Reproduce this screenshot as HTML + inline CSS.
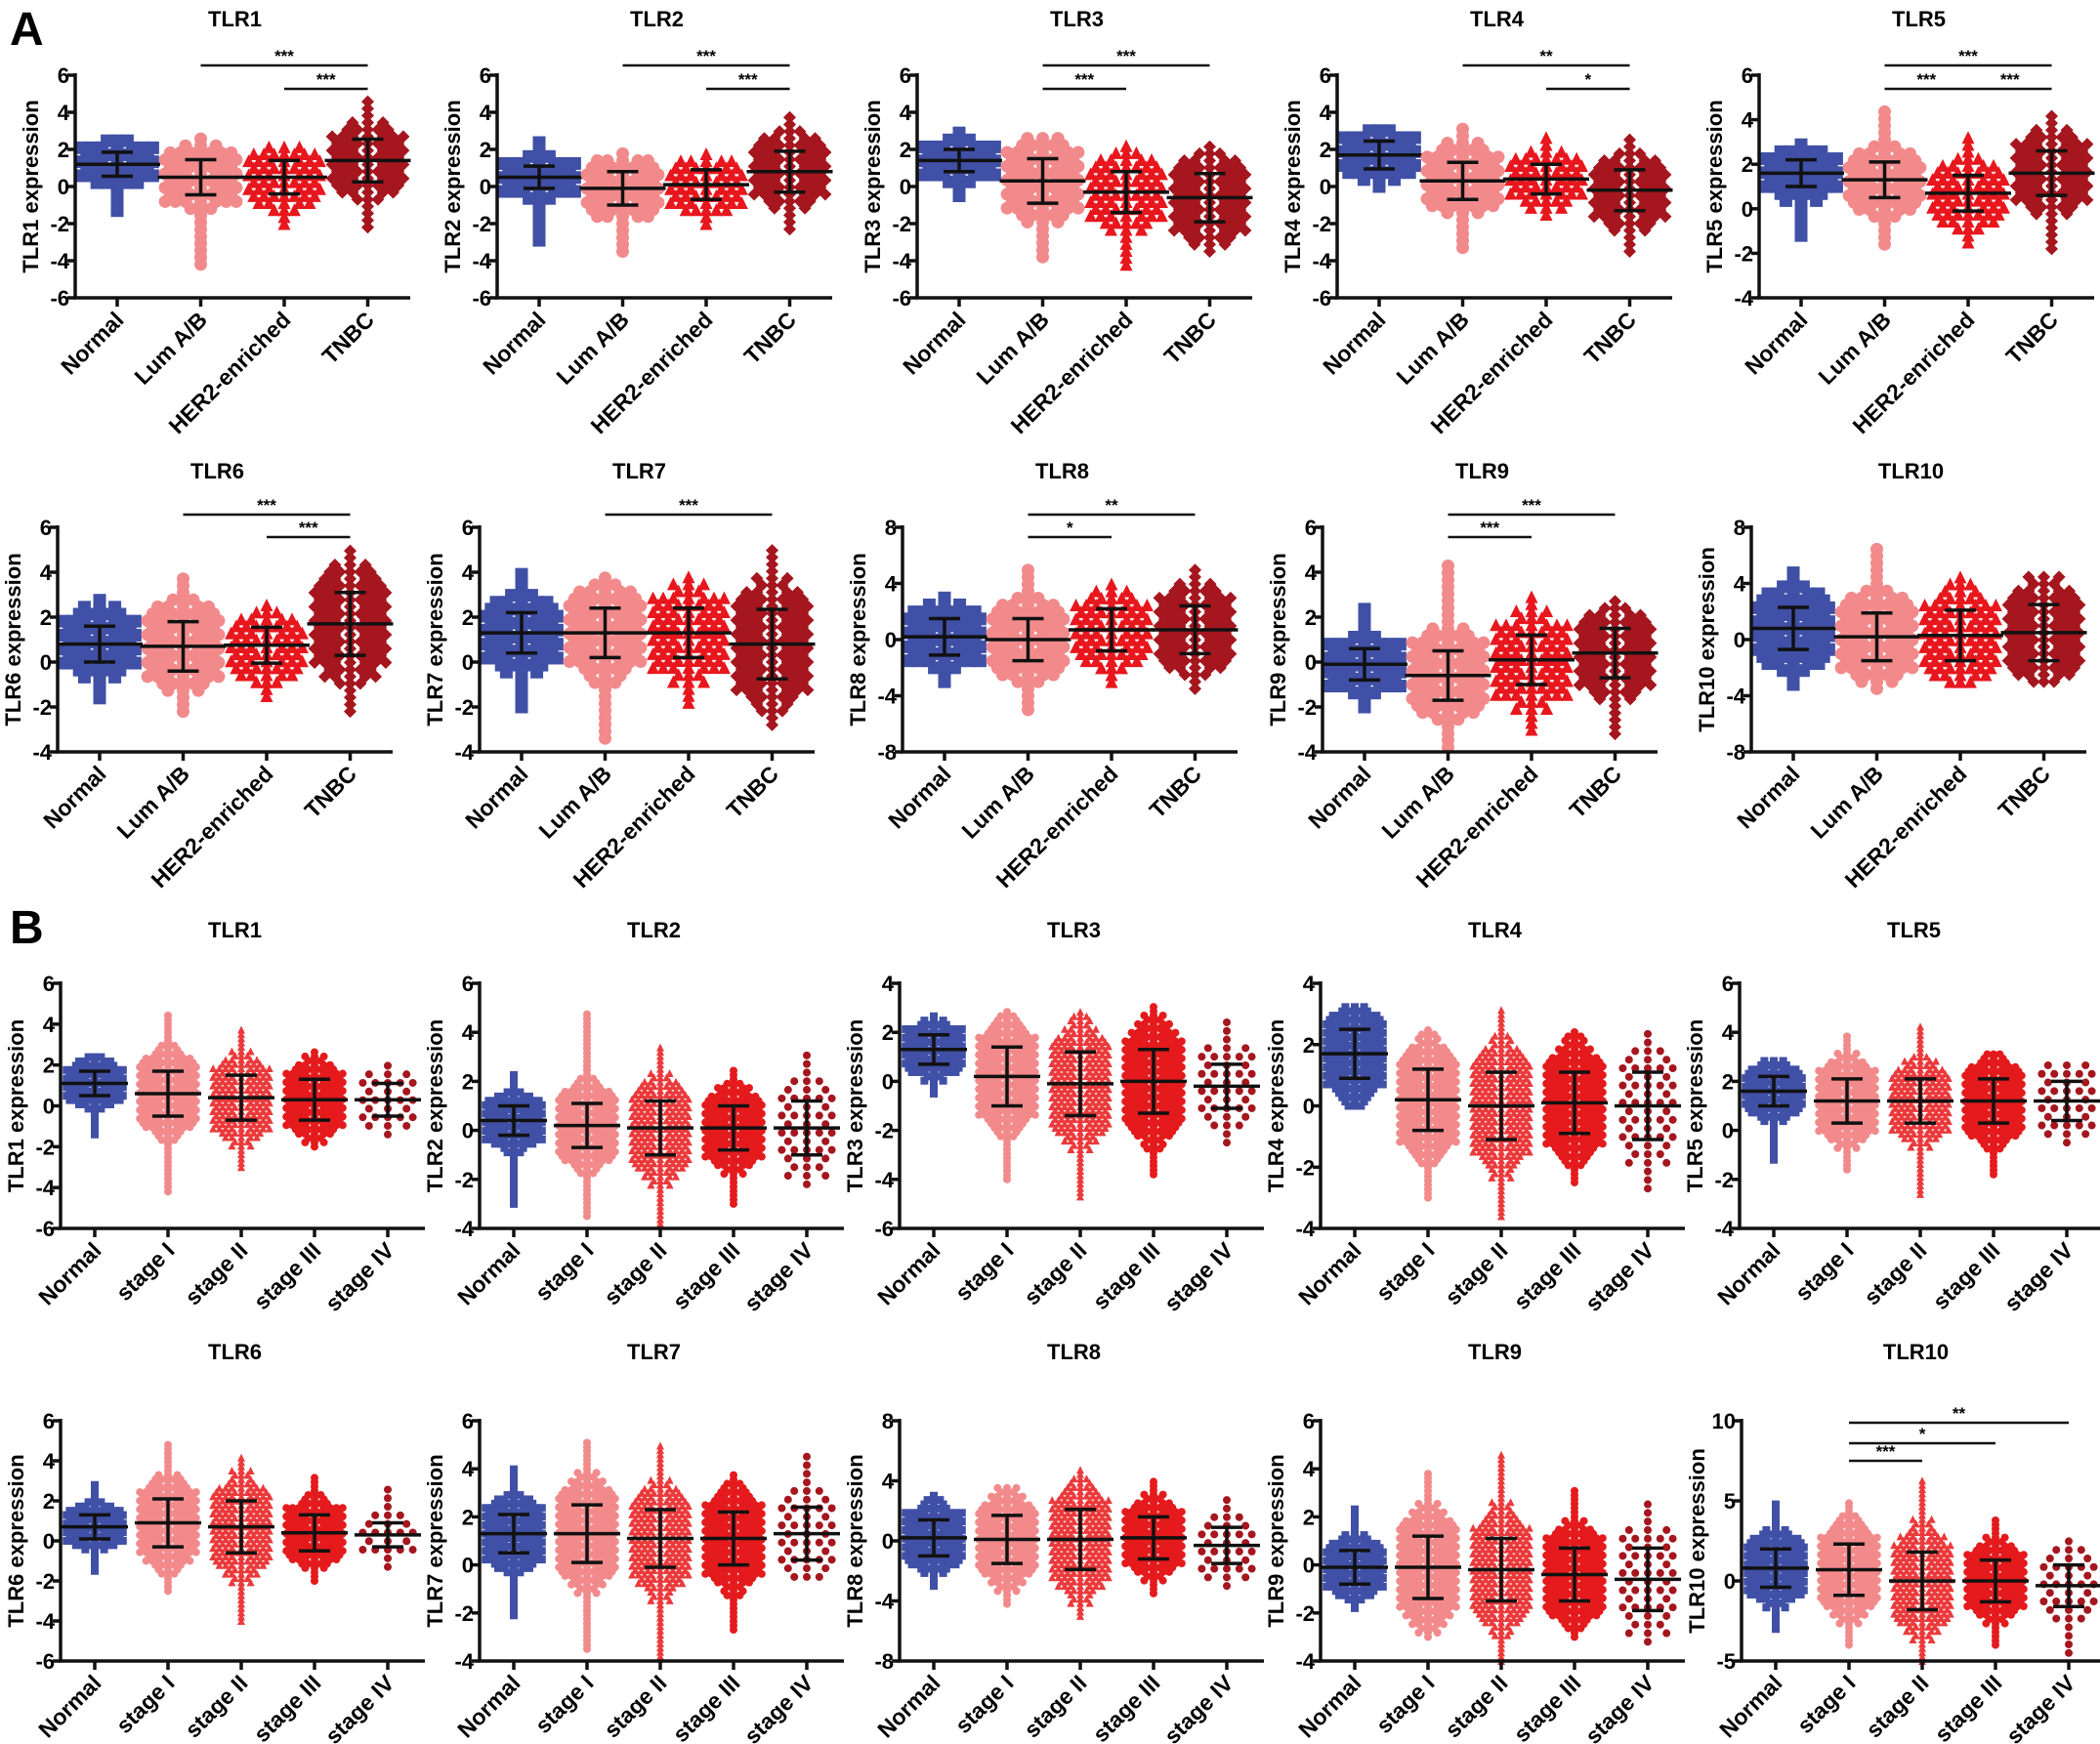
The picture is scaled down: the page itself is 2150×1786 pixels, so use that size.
<!DOCTYPE html>
<html><head><meta charset="utf-8"><style>
html,body{margin:0;padding:0;background:#fff;}
svg{display:block;font-family:"Liberation Sans",Arial,sans-serif;font-weight:bold;}
</style></head><body>
<svg id="fig" width="2150" height="1786" viewBox="0 0 2150 1786" xmlns="http://www.w3.org/2000/svg">
<rect width="2150" height="1786" fill="#fff"/>
<text x="10" y="46" font-size="48">A</text>
<text x="10" y="966" font-size="48">B</text>
</svg>
<script>
// ---------- DATA: subtype panels (A) ----------
const aTitles = ["TLR1","TLR2","TLR3","TLR4","TLR5","TLR6","TLR7","TLR8","TLR9","TLR10"];
const aCats = ["Normal","Lum A/B","HER2-enriched","TNBC"];
const aYMin = [-6,-6,-6,-6,-4,-4,-4,-8,-4,-8];
const aYMax = [6,6,6,6,6,6,6,8,6,8];
const aYStep = [2,2,2,2,2,2,2,4,2,4];
const aMeans = [[1.2,0.5,0.5,1.4],[0.5,-0.1,0.1,0.8],[1.4,0.3,-0.3,-0.6],[1.7,0.3,0.4,-0.2],[1.6,1.3,0.7,1.6],[0.8,0.7,0.75,1.7],[1.3,1.3,1.3,0.8],[0.2,0.0,0.7,0.7],[-0.1,-0.6,0.1,0.4],[0.8,0.2,0.3,0.5]];
const aSDs = [[0.65,0.95,0.9,1.15],[0.6,0.9,0.8,1.1],[0.6,1.2,1.1,1.3],[0.75,1.0,0.8,1.1],[0.6,0.8,0.8,1.0],[0.8,1.1,0.8,1.4],[0.9,1.1,1.1,1.55],[1.3,1.5,1.5,1.7],[0.7,1.1,1.1,1.1],[1.5,1.7,1.8,2.0]];
const aMins = [[-1.3,-4.2,-2,-2.2],[-2.9,-3.5,-2,-2.3],[-0.5,-3.8,-4.2,-3.5],[0,-3.3,-1.5,-3.5],[-1.2,-1.6,-1.5,-1.8],[-1.6,-2.2,-1.5,-2.2],[-2,-3.4,-1.8,-2.8],[-3,-5,-3,-3.5],[-2,-3.8,-3,-3.2],[-3.2,-3.5,-3,-3]];
const aMaxs = [[2.7,2.8,2.3,4.7],[2.4,2,2,3.8],[2.9,2.8,2.5,2.5],[3.3,3.2,2.8,2.8],[3,4.5,3.2,4.2],[2.9,4,2.8,5],[4.2,3.8,4.1,5],[3.2,5.3,4,5],[2.6,4.5,3,3],[5,6.6,4.5,4.5]];
const aSig = [[[1,3,"***",0],[2,3,"***",1]],[[1,3,"***",0],[2,3,"***",1]],[[1,3,"***",0],[1,2,"***",1]],[[1,3,"**",0],[2,3,"*",1]],[[1,3,"***",0],[1,2,"***",1],[2,3,"***",1]],[[1,3,"***",0],[2,3,"***",1]],[[1,3,"***",0]],[[1,3,"**",0],[1,2,"*",1]],[[1,3,"***",0],[1,2,"***",1]],[]];
// ---------- DATA: stage panels (B) ----------
const bTitles = ["TLR1","TLR2","TLR3","TLR4","TLR5","TLR6","TLR7","TLR8","TLR9","TLR10"];
const bCats = ["Normal","stage I","stage II","stage III","stage IV"];
const bYMin = [-6,-4,-6,-4,-4,-6,-4,-8,-4,-5];
const bYMax = [6,6,4,4,6,6,6,8,6,10];
const bYStep = [2,2,2,2,2,2,2,4,2,5];
const bMeans = [[1.1,0.6,0.4,0.3,0.3],[0.4,0.2,0.1,0.1,0.1],[1.3,0.2,-0.1,0,-0.2],[1.7,0.2,0,0.1,0],[1.6,1.2,1.2,1.2,1.2],[0.7,0.9,0.7,0.4,0.3],[1.3,1.3,1.1,1.1,1.3],[0.2,0.1,0.1,0.2,-0.3],[-0.1,-0.1,-0.2,-0.4,-0.6],[0.8,0.7,0,0,-0.3]];
const bSDs = [[0.6,1.1,1.1,1.0,0.8],[0.6,0.9,1.1,0.9,1.1],[0.6,1.2,1.3,1.3,0.9],[0.8,1.0,1.1,1.0,1.1],[0.6,0.9,0.9,0.9,0.8],[0.6,1.2,1.3,0.9,0.6],[0.8,1.2,1.2,1.1,1.1],[1.2,1.6,2.0,1.4,1.2],[0.7,1.3,1.3,1.1,1.3],[1.2,1.6,1.8,1.3,1.3]];
const bMins = [[-1.4,-4.2,-3,-2,-1.4],[-3,-3.5,-3.8,-3,-2.2],[-0.5,-4,-4.7,-3.8,-2.5],[0,-3,-3.6,-2.5,-2.7],[-1.2,-1.6,-2.6,-1.8,-0.5],[-1.5,-2.5,-4,-2,-1.3],[-2.1,-3.5,-3.8,-2.7,-0.5],[-3,-4.2,-5,-3.5,-3],[-1.8,-3,-4,-3,-3.2],[-3,-4,-5,-4,-4.5]];
const bMaxs = [[2.5,4.5,3.9,2.7,2.2],[2.4,4.8,3.5,2.5,3.3],[2.8,2.9,3,3.2,2.5],[3.3,2.5,3.2,2.5,2.5],[3,4,4.3,3.2,2.8],[2.8,4.8,4.2,3.3,2.7],[4,5.2,5,3.8,4.8],[3.2,3.8,5,4,3],[2.4,3.8,4.7,3.2,2.8],[5,5,6.5,4,2.5]];
const bSig = [[],[],[],[],[],[],[],[],[],[[1,2,"***",2],[1,3,"*",1],[1,4,"**",0]]];

// ---------- LAYOUT ----------
const NS = "http://www.w3.org/2000/svg";
const fig = document.getElementById("fig");
const aColors = ["#4050a6","#f28a8c","#e8161d","#a5161e"];
const aShapes = ["square","circle","triangle","diamond"];
const aSparse = [false,false,false,false];
const bColors = ["#4050a6","#f28a8c","#ea3a3c","#e41a1c","#a5161e"];
const bShapes = ["square","circle","triangle","circle","circle"];
const bSparse = [false,false,false,false,true];
const aAxisX = [77,509,939,1369,1801,59,491,924,1354,1793];
const bAxisX = [62,491,921,1352,1781,62,491,921,1352,1783];

function el(tag, attrs, parent){const e=document.createElementNS(NS,tag);for(const k in attrs)e.setAttribute(k,attrs[k]);(parent||fig).appendChild(e);return e;}

function marker(g, shape, x, y, s, color){
  const h=s/2;
  if(shape==="square") return el("rect",{x:x-h,y:y-h,width:s,height:s,fill:color},g);
  if(shape==="circle") return el("circle",{cx:x,cy:y,r:h,fill:color},g);
  if(shape==="triangle") return el("polygon",{points:`${x},${y-h} ${x+h},${y+h} ${x-h},${y+h}`,fill:color},g);
  return el("polygon",{points:`${x},${y-h} ${x+h},${y} ${x},${y+h} ${x-h},${y}`,fill:color},g);
}

function drawPanel(p){
  const g = el("g",{});
  
  
  const ys = v => p.yBot - (v - p.ymin)/(p.ymax - p.ymin)*(p.yBot - p.yTop);
  const xs = i => p.ax + p.g0 + i*p.gs;
  const t = el("text",{x:(p.ax+p.x1)/2-8,y:p.titleY,"font-size":22,"text-anchor":"middle"},g);
  t.textContent = p.title;
  
  
  const yl = el("text",{x:0,y:0,"font-size":22,"text-anchor":"middle",transform:`translate(${p.ax-38},${(p.yTop+p.yBot)/2}) rotate(-90)`},g);
  yl.textContent = p.title+" expression";
  
  
  for(let i=0;i<p.means.length;i++){
    const pg = el("g",{},g);
    
    
    const m=p.means[i], sd=p.sds[i], mn=p.mins[i], mx=p.maxs[i];
    const cx = xs(i);
    const sp = p.sparse[i] ? 2 : 1;
    const rowH = p.ms*0.55*sp;
    const colW = p.ms*0.8*sp;
    const y0 = ys(mn), y1 = ys(mx);
    let r = 0;
    for(let y=y0; y>=y1-0.1; y-=rowH, r++){
      const v = p.ymin + (p.yBot - y)/(p.yBot-p.yTop)*(p.ymax-p.ymin);
      const z = (v-m)/sd;
      let half = Math.min(p.maxHalf, p.maxHalf*2.4*Math.exp(-z*z/2));
      const n = Math.max(0, Math.floor(half/colW));
      const off = (r%2)?colW*0.5:0;
      for(let k=-n;k<=n;k++){
        let xx = cx + k*colW + (k===0?0:off*Math.sign(k));
        if(Math.abs(xx-cx)>p.maxHalf+1) continue;
        marker(pg,p.shapes[i],xx,y,p.ms,p.colors[i]);
      }
    }
    const eb = el("g",{stroke:"#111","stroke-width":3.5,fill:"none"},g);
    
    
    el("line",{x1:cx-p.meanHalf,x2:cx+p.meanHalf,y1:ys(m),y2:ys(m)},eb);
    el("line",{x1:cx,x2:cx,y1:ys(m-sd),y2:ys(m+sd)},eb);
    el("line",{x1:cx-16,x2:cx+16,y1:ys(m+sd),y2:ys(m+sd)},eb);
    el("line",{x1:cx-16,x2:cx+16,y1:ys(m-sd),y2:ys(m-sd)},eb);
  }
  const axg = el("g",{stroke:"#111","stroke-width":3.5},g);
  
  
  el("line",{x1:p.ax,x2:p.ax,y1:p.yTop-2,y2:p.yBot},axg);
  el("line",{x1:p.ax-2,x2:p.x1,y1:p.yBot,y2:p.yBot},axg);
  for(let v=p.ymin; v<=p.ymax+1e-9; v+=p.step){
    el("line",{x1:p.ax-8,x2:p.ax,y1:ys(v),y2:ys(v)},axg);
    const tl = el("text",{x:p.ax-6,y:ys(v)+8,"font-size":22,"text-anchor":"end",stroke:"none"},g);
    tl.textContent = String(v);
    
    
  }
  for(let i=0;i<p.cats.length;i++){
    el("line",{x1:xs(i),x2:xs(i),y1:p.yBot,y2:p.yBot+9},axg);
    const cl = el("text",{x:0,y:0,"font-size":23,"text-anchor":"end",transform:`translate(${xs(i)+8},${p.yBot+24}) rotate(-45)`},g);
    cl.textContent = p.cats[i];
    
    
  }
  for(const s of p.sig){
    const yy = p.sigY[s[3]];
    const sg = el("g",{},g);
    
    
    el("line",{x1:xs(s[0]),x2:xs(s[1]),y1:yy,y2:yy,stroke:"#111","stroke-width":2.5},sg);
    const st = el("text",{x:(xs(s[0])+xs(s[1]))/2,y:yy-4,"font-size":17,"text-anchor":"middle"},sg);
    st.textContent = s[2];
  }
}

for(let i=0;i<10;i++){
  const row = Math.floor(i/5);
  drawPanel({id:"a-"+aTitles[i].toLowerCase(), title:aTitles[i], cats:aCats,
    ax:aAxisX[i], x1:aAxisX[i]+343, g0:43, gs:85.5,
    yTop: row?540:77, yBot: row?770:305, titleY: row?490:27,
    ymin:aYMin[i], ymax:aYMax[i], step:aYStep[i],
    means:aMeans[i], sds:aSDs[i], mins:aMins[i], maxs:aMaxs[i],
    colors:aColors, shapes:aShapes, sparse:aSparse, ms:13, maxHalf:36, meanHalf:44,
    sig:aSig[i], sigY: row?[527,550]:[67,91]});
}
for(let i=0;i<10;i++){
  const row = Math.floor(i/5);
  drawPanel({id:"b-"+bTitles[i].toLowerCase(), title:bTitles[i], cats:bCats,
    ax:bAxisX[i], x1:bAxisX[i]+373, g0:35, gs:75,
    yTop: row?1455:1007, yBot: row?1701:1258, titleY: row?1392:960,
    ymin:bYMin[i], ymax:bYMax[i], step:bYStep[i],
    means:bMeans[i], sds:bSDs[i], mins:bMins[i], maxs:bMaxs[i],
    colors:bColors, shapes:bShapes, sparse:bSparse, ms:8, maxHalf:28, meanHalf:34,
    sig:bSig[i], sigY:[1457,1478,1496]});
}
</script>
</body></html>
